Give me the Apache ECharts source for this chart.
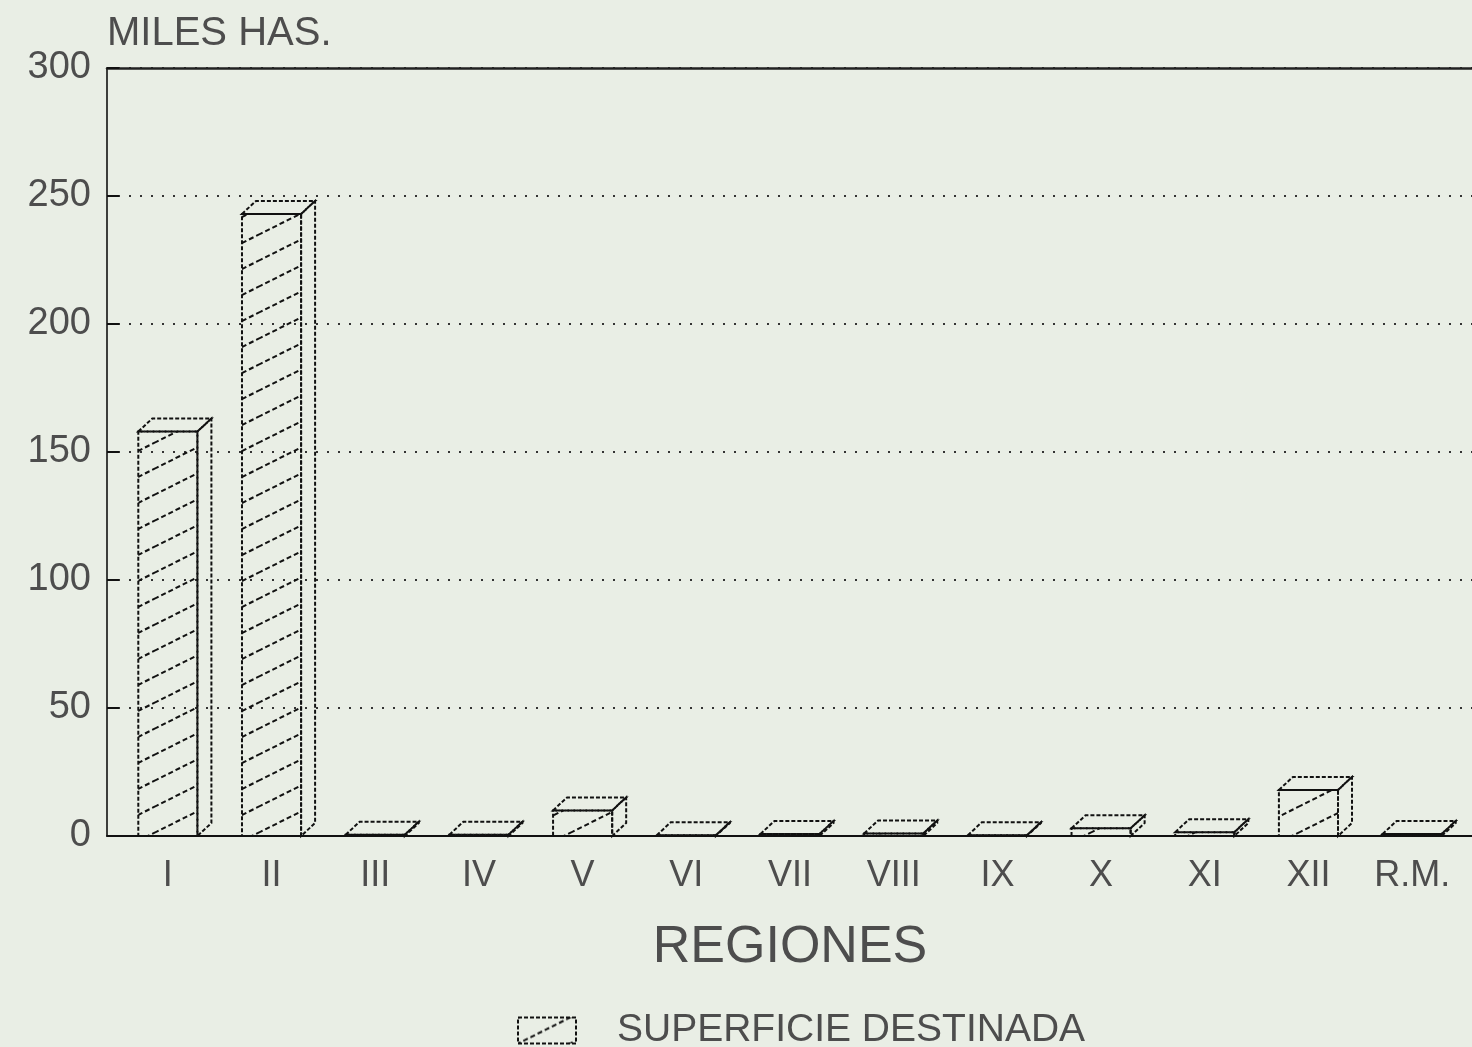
<!DOCTYPE html>
<html>
<head>
<meta charset="utf-8">
<script src="https://cdn.jsdelivr.net/npm/echarts@6/dist/echarts.min.js"></script>
<style>
	html, body { margin: 0; padding: 0; background: #e9eee5; }
	#chart { width: 1472px; height: 1047px; }
</style>
</head>
<body>
<div id="chart"></div>
<script>
// regiones
var regiones = ['I', 'II', 'III', 'IV', 'V', 'VI', 'VII', 'VIII', 'IX', 'X', 'XI', 'XII', 'R.M.'];
// superficie destinada, miles de hectareas
var superficie = [158, 243, 0.5, 0.5, 10, 0.3, 0.8, 1, 0.3, 3, 1.5, 18, 0.8];
var serieNombre = 'SUPERFICIE DESTINADA';
var yMin = 0, yMax = 300, yPaso = 50;

var fuente = '"Liberation Sans", Arial, sans-serif';
var tinta = '#4d4d4d';

// trama diagonal de las barras
function crearTrama() {
	var w = 52, h = 26;
	var c = document.createElement('canvas');
	c.width = w; c.height = h;
	var ctx = c.getContext('2d');
	ctx.strokeStyle = '#111';
	ctx.lineWidth = 2;
	ctx.setLineDash([5, 3]);
	for (var k = -1; k <= 1; k++) {
		ctx.beginPath();
		ctx.moveTo(-w, 2 * h + k * h);
		ctx.lineTo(2 * w, -h + k * h);
		ctx.stroke();
	}
	return {image: c, repeat: 'repeat'};
}
var trama = crearTrama();

function dibujarCaja(params, api) {
	var tope = api.coord([api.value(0), api.value(1)]);
	var base = api.coord([api.value(0), 0]);
	var ancho = api.size([1, 0])[0] * 0.57;
	var x0 = tope[0] - ancho / 2, x1 = tope[0] + ancho / 2;
	var y0 = base[1], y1 = tope[1];
	var dx = 14, dy = 13;
	var linea = {fill: 'none', stroke: '#111', lineWidth: 2, lineDash: [4, 2]};
	return {
		type: 'group',
		children: [
			{type: 'polygon', shape: {points: [[x0, y1], [x0 + dx, y1 - dy], [x1 + dx, y1 - dy], [x1, y1]]}, style: linea},
			{type: 'polygon', shape: {points: [[x1, y1], [x1 + dx, y1 - dy], [x1 + dx, y0 - dy], [x1, y0]]}, style: linea},
			{type: 'rect', shape: {x: x0, y: y1, width: ancho, height: y0 - y1},
				style: {fill: trama, stroke: '#111', lineWidth: 2, lineDash: [4, 2]}}
		]
	};
}

var myChart = echarts.init(document.getElementById('chart'));

var option = {
	backgroundColor: '#e9eee5',
	animation: false,
	grid: [
		{left: 107, right: 0, top: 68, bottom: 211},
		{left: 116, right: 8, top: 68, bottom: 211}
	],
	xAxis: [
		{
			gridIndex: 0, type: 'value', min: 0, max: 1, position: 'bottom',
			axisLine: {show: true, lineStyle: {color: '#111', width: 2}},
			axisTick: {show: false}, axisLabel: {show: false}, splitLine: {show: false}
		},
		{
			gridIndex: 0, type: 'value', min: 0, max: 1, position: 'top',
			axisLine: {show: true, lineStyle: {color: '#222', width: 2.5}},
			axisTick: {show: false}, axisLabel: {show: false}, splitLine: {show: false}
		},
		{
			gridIndex: 1, type: 'category', data: regiones,
			axisLine: {show: false}, axisTick: {show: false},
			axisLabel: {margin: 22, fontFamily: fuente, fontSize: 36, color: tinta},
			name: 'REGIONES', nameLocation: 'middle', nameGap: 86,
			nameTextStyle: {fontFamily: fuente, fontSize: 52, color: tinta}
		}
	],
	yAxis: [
		{
			gridIndex: 0, type: 'value', min: yMin, max: yMax, interval: yPaso,
			axisLine: {show: true, lineStyle: {color: '#111', width: 1.6}},
			axisTick: {show: true, inside: true, length: 12, lineStyle: {color: '#111', width: 2}},
			axisLabel: {margin: 16, fontFamily: fuente, fontSize: 38, color: tinta},
			splitLine: {show: true, lineStyle: {color: '#333', width: 2, type: [2, 9]}},
			name: 'MILES HAS.', nameLocation: 'end', nameGap: 14,
			nameTextStyle: {fontFamily: fuente, fontSize: 40, color: tinta, align: 'left'}
		},
		{
			gridIndex: 1, type: 'value', min: yMin, max: yMax, show: false
		}
	],
	legend: {
		left: 512, top: 1006,
		itemWidth: 58, itemHeight: 26,
		textStyle: {fontFamily: fuente, fontSize: 39, color: tinta, padding: [0, 0, 0, 36]},
		data: [{
			name: serieNombre, icon: 'rect',
			itemStyle: {color: trama, borderColor: '#111', borderWidth: 2, borderType: [4, 2]}
		}]
	},
	series: [{
		name: serieNombre,
		type: 'custom',
		xAxisIndex: 2,
		yAxisIndex: 1,
		renderItem: dibujarCaja,
		itemStyle: {color: trama},
		encode: {x: 0, y: 1},
		data: regiones.map(function(r, i) { return [i, superficie[i]]; })
	}]
};

myChart.setOption(option);
</script>
</body>
</html>
